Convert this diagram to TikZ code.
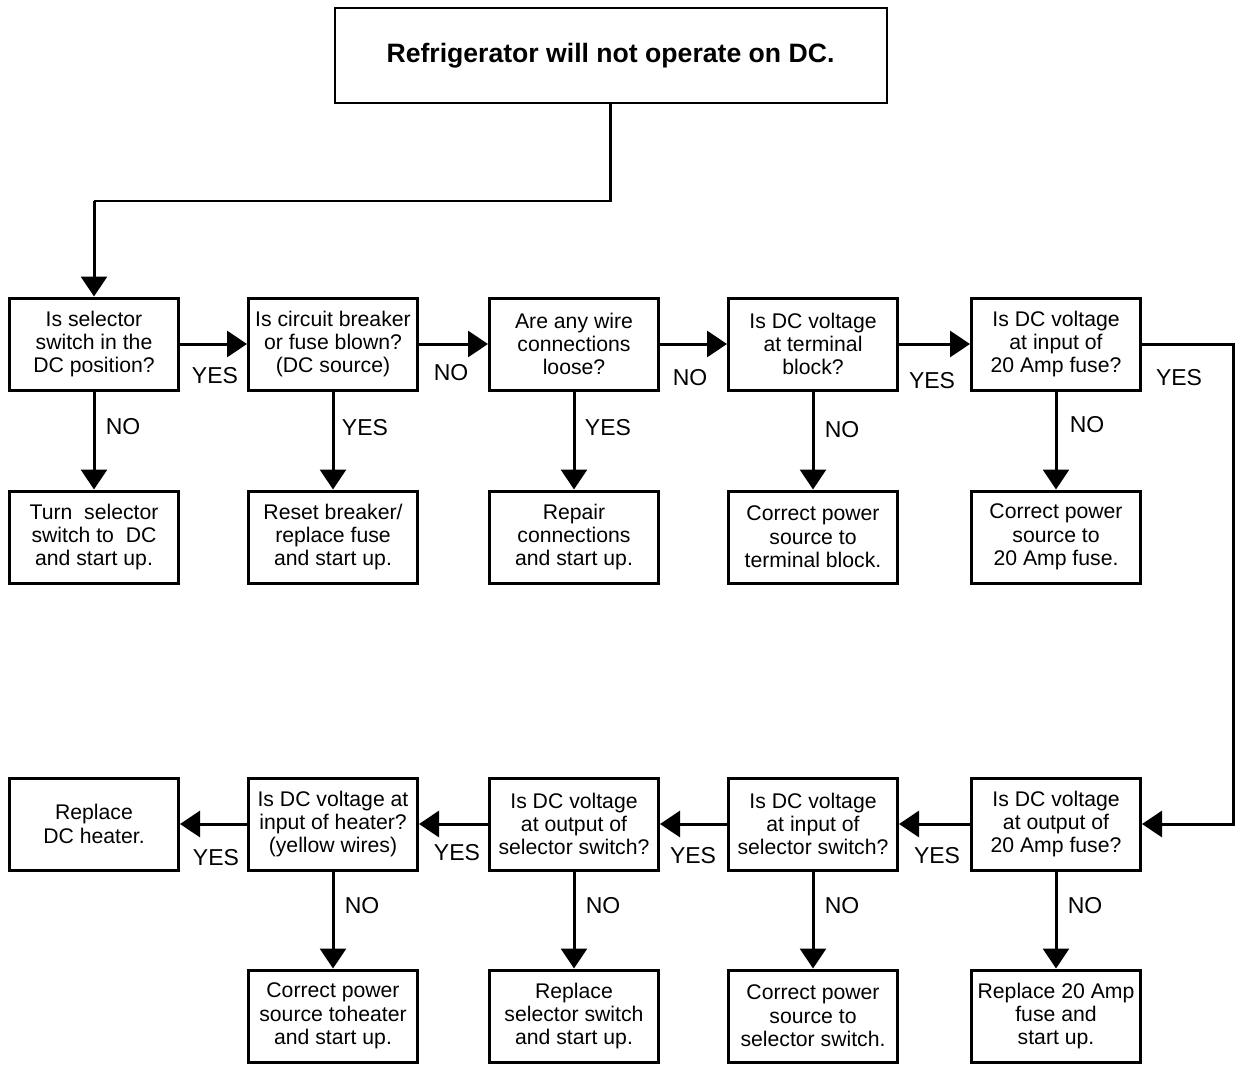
\documentclass[tikz,border=0pt]{standalone}
\usepackage{fontspec}
\setmainfont{Liberation Sans}
\usetikzlibrary{arrows.meta}

\begin{document}
\begin{tikzpicture}[x=0.5pt,y=-0.5pt]
\tikzstyle{box}=[draw,line width=1.5pt,minimum width=84.5pt,minimum height=46pt,align=center,inner sep=1pt,font=\fontsize{10.6}{11.7}\selectfont]
\tikzstyle{answer}=[inner sep=0pt,font=\fontsize{11.5}{13}\selectfont]
\tikzstyle{flow}=[line width=1.5pt,-{Triangle[length=10pt,width=13pt]}]
\useasboundingbox (0,0) rectangle (1235,1065);

% start
\node[box,line width=1pt,minimum width=276pt,minimum height=47.5pt,font=\bfseries\fontsize{13.3}{15}\selectfont] (start) at (610.5,56) {Refrigerator will not operate on DC.};

% first row of questions
\node[box] (selpos) at (94,344) {Is selector\\switch in the\\DC position?};
\node[box] (breaker) at (333,344) {Is circuit breaker\\or fuse blown?\\(DC source)};
\node[box] (loose) at (574,344) {Are any wire\\connections\\loose?};
\node[box] (block) at (813,344) {Is DC voltage\\at terminal\\block?};
\node[box] (fusein) at (1056,344) {Is DC voltage\\at input of\\20 Amp fuse?};

% first row of remedies
\node[box] (turnsel) at (94,537) {Turn\ \ selector\\switch to\ \ DC\\and start up.};
\node[box] (reset) at (333,537) {Reset breaker/\\replace fuse\\and start up.};
\node[box] (repair) at (574,537) {Repair\\connections\\and start up.};
\node[box] (fixblock) at (813,537) {Correct power\\source to\\terminal block.};
\node[box] (fixfusein) at (1056,537) {Correct power\\source to\\20 Amp fuse.};

% second row of questions
\node[box] (heater) at (94,824) {Replace\\DC heater.};
\node[box] (heaterin) at (333,824) {Is DC voltage at\\input of heater?\\(yellow wires)};
\node[box] (selout) at (574,824) {Is DC voltage\\at output of\\selector switch?};
\node[box] (selin) at (813,824) {Is DC voltage\\at input of\\selector switch?};
\node[box] (fuseout) at (1056,824) {Is DC voltage\\at output of\\20 Amp fuse?};

% second row of remedies
\node[box] (fixheater) at (333,1016) {Correct power\\source toheater\\and start up.};
\node[box] (newsel) at (574,1016) {Replace\\selector switch\\and start up.};
\node[box] (fixselin) at (813,1016) {Correct power\\source to\\selector switch.};
\node[box] (newfuse) at (1056,1016) {Replace 20 Amp\\fuse and\\start up.};

% connectors
\coordinate (down) at (94,201);
\coordinate (side) at (1233,600);
\draw[line width=1.1pt] (start.south) |- (down);
\draw[flow] (down) -- (selpos.north);
\draw[flow] (selpos) -- (breaker);
\draw[flow] (breaker) -- (loose);
\draw[flow] (loose) -- (block);
\draw[flow] (block) -- (fusein);
\draw[flow] (fusein.east) -| (side) |- (fuseout.east);
\draw[flow] (selpos) -- (turnsel);
\draw[flow] (breaker) -- (reset);
\draw[flow] (loose) -- (repair);
\draw[flow] (block) -- (fixblock);
\draw[flow] (fusein) -- (fixfusein);
\draw[flow] (fuseout) -- (selin);
\draw[flow] (selin) -- (selout);
\draw[flow] (selout) -- (heaterin);
\draw[flow] (heaterin) -- (heater);
\draw[flow] (heaterin) -- (fixheater);
\draw[flow] (selout) -- (newsel);
\draw[flow] (selin) -- (fixselin);
\draw[flow] (fuseout) -- (newfuse);

% answers
\node[answer] (a1) at (215,376) {YES};
\node[answer] (a2) at (451,373) {NO};
\node[answer] (a3) at (690,378) {NO};
\node[answer] (a4) at (932,381) {YES};
\node[answer] (a5) at (1179,378) {YES};
\node[answer] (a6) at (123,427) {NO};
\node[answer] (a7) at (365,428) {YES};
\node[answer] (a8) at (608,428) {YES};
\node[answer] (a9) at (842,430) {NO};
\node[answer] (a10) at (1087,425) {NO};
\node[answer] (a11) at (216,858) {YES};
\node[answer] (a12) at (457,853) {YES};
\node[answer] (a13) at (693,856) {YES};
\node[answer] (a14) at (937,856) {YES};
\node[answer] (a15) at (362,906) {NO};
\node[answer] (a16) at (603,906) {NO};
\node[answer] (a17) at (842,906) {NO};
\node[answer] (a18) at (1085,906) {NO};
\end{tikzpicture}
\end{document}
